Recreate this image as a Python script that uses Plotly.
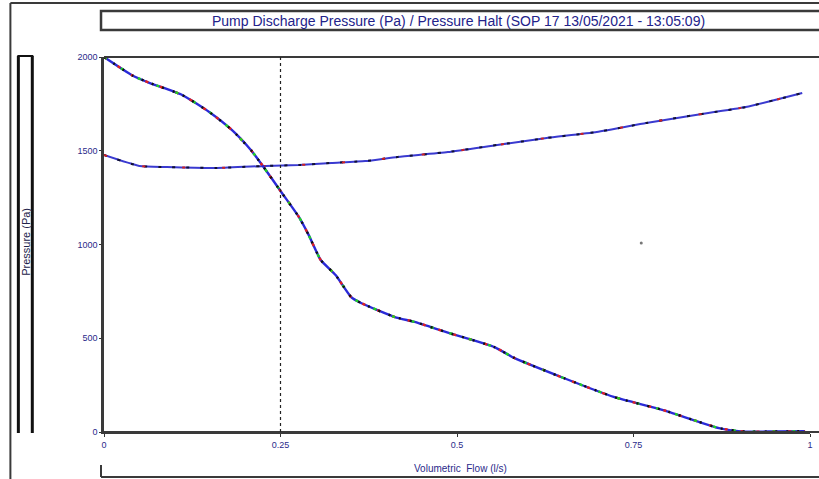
import plotly.graph_objects as go

# Falling curve (head / pressure)
x_fall = [0.0, 0.041, 0.065, 0.111, 0.149, 0.181, 0.208, 0.224, 0.252, 0.276, 0.290,
          0.307, 0.328, 0.350, 0.364, 0.412, 0.440, 0.487, 0.553, 0.581, 0.651,
          0.722, 0.792, 0.871, 0.909, 0.95, 0.993]
y_fall = [2000, 1900, 1861, 1797, 1707, 1611, 1504, 1424, 1275, 1147, 1050,
          917, 837, 720, 688, 613, 587, 530, 453, 395, 288,
          187, 117, 21, 2, 3, 4]

# Rising curve
x_rise = [0.0, 0.05, 0.089, 0.16, 0.229, 0.276, 0.322, 0.37, 0.416, 0.487, 0.557,
          0.627, 0.698, 0.768, 0.838, 0.909, 0.989]
y_rise = [1477, 1419, 1413, 1408, 1419, 1424, 1435, 1445, 1467, 1493, 1531,
          1568, 1600, 1648, 1691, 1733, 1808]

x_ticks = [0, 0.25, 0.5, 0.75, 1]
x_tick_text = ["0", "0.25", "0.5", "0.75", "1"]
y_ticks = [0, 500, 1000, 1500, 2000]
y_tick_text = ["0", "500", "1000", "1500", "2000"]
marker_x = [0.250]
stray_x = [0.761]
stray_y = [1008]

title_text = "Pump Discharge Pressure (Pa) / Pressure Halt (SOP 17 13/05/2021 - 13:05:09)"
y_title = "Pressure (Pa)"
x_title = "Volumetric  Flow (l/s)"

W, H = 819, 479
L, R, T, B = 104, 813, 57, 432


def px(xp):
    return (xp - L) / (R - L)


def py(yp):
    return (B - yp) / (B - T)


fig = go.Figure()

SM = dict(shape="spline", smoothing=0.5)

# rising curve
fig.add_trace(go.Scatter(x=x_rise, y=y_rise, mode="lines",
                         line=dict(color="#3a3ad0", width=2.0, **SM), hoverinfo="skip"))
fig.add_trace(go.Scatter(x=x_rise, y=y_rise, mode="lines",
                         line=dict(color="#111133", width=2.0, dash="3px,11px", **SM), hoverinfo="skip"))
fig.add_trace(go.Scatter(x=x_rise, y=y_rise, mode="lines",
                         line=dict(color="#d02020", width=2.0, dash="3px,37px", **SM), hoverinfo="skip"))

# falling curve, multicoloured
fig.add_trace(go.Scatter(x=x_fall, y=y_fall, mode="lines",
                         line=dict(color="#2a2ad8", width=2.4, **SM), hoverinfo="skip"))
fig.add_trace(go.Scatter(x=x_fall, y=y_fall, mode="lines",
                         line=dict(color="#e02020", width=2.4, dash="3px,13px", **SM), hoverinfo="skip"))
fig.add_trace(go.Scatter(x=x_fall, y=y_fall, mode="lines",
                         line=dict(color="#20d020", width=2.4, dash="3px,17px", **SM), hoverinfo="skip"))
fig.add_trace(go.Scatter(x=x_fall, y=y_fall, mode="lines",
                         line=dict(color="#111111", width=2.4, dash="2px,9px", **SM), hoverinfo="skip"))

# stray dot
fig.add_trace(go.Scatter(x=stray_x, y=stray_y, mode="markers",
                         marker=dict(color="#777777", size=3), hoverinfo="skip"))

shapes = []
line_dark = dict(color="#3a3a3a", width=2)
# outer page frame
shapes.append(dict(type="line", xref="paper", yref="paper", x0=px(10), x1=px(830),
                   y0=py(3), y1=py(3), line=line_dark))
shapes.append(dict(type="line", xref="paper", yref="paper", x0=px(10), x1=px(10),
                   y0=py(3), y1=py(490), line=line_dark))
# title box
shapes.append(dict(type="rect", xref="paper", yref="paper", x0=px(101), x1=px(830),
                   y0=py(11), y1=py(30), line=dict(color="#3a3a3a", width=2.5)))
# y-title box
shapes.append(dict(type="line", xref="paper", yref="paper", x0=px(18), x1=px(18),
                   y0=py(56), y1=py(433), line=dict(color="#111111", width=3)))
shapes.append(dict(type="line", xref="paper", yref="paper", x0=px(32), x1=px(32),
                   y0=py(56), y1=py(433), line=dict(color="#111111", width=3)))
shapes.append(dict(type="line", xref="paper", yref="paper", x0=px(17), x1=px(33),
                   y0=py(56), y1=py(56), line=dict(color="#111111", width=2)))
# x-title bracket
shapes.append(dict(type="line", xref="paper", yref="paper", x0=px(101), x1=px(101),
                   y0=py(465), y1=py(477), line=line_dark))
shapes.append(dict(type="line", xref="paper", yref="paper", x0=px(101), x1=px(830),
                   y0=py(477), y1=py(477), line=line_dark))
# plot top border
shapes.append(dict(type="line", xref="paper", yref="paper", x0=0, x1=px(830),
                   y0=1, y1=1, line=dict(color="#3a3a3a", width=2)))
# bottom axis extended
shapes.append(dict(type="line", xref="paper", yref="paper", x0=0, x1=px(830),
                   y0=0, y1=0, line=dict(color="#3a3a3a", width=2)))
# dotted marker line
for mx in marker_x:
    shapes.append(dict(type="line", xref="x", yref="paper", x0=mx, x1=mx, y0=0, y1=1,
                       line=dict(color="#222222", width=1.2, dash="dot")))

FAM = "Liberation Sans, Arial, sans-serif"
font_txt = dict(family=FAM, size=10, color="#2a2a8a")

annotations = [
    dict(text=title_text, xref="paper", yref="paper", x=px(460), y=py(20.5),
         xanchor="center", yanchor="middle",
         showarrow=False, font=dict(family=FAM, size=14, color="#22228a")),
    dict(text=y_title, xref="paper", yref="paper", x=px(25.5), y=py(242), textangle=-90,
         xanchor="center", yanchor="middle",
         showarrow=False, font=dict(family=FAM, size=11, color="#22224a")),
    dict(text=x_title, xref="paper", yref="paper", x=px(462), y=py(468),
         xanchor="center", yanchor="middle",
         showarrow=False, font=font_txt),
]

fig.update_layout(
    width=W, height=H, autosize=False,
    margin=dict(l=L, r=W - R, t=T, b=H - B, pad=0),
    paper_bgcolor="white", plot_bgcolor="white",
    showlegend=False,
    shapes=shapes, annotations=annotations,
    xaxis=dict(range=[0, 1], tickvals=x_ticks, ticktext=x_tick_text,
               showgrid=False, zeroline=False, showline=True, linecolor="#3a3a3a", linewidth=2,
               ticks="outside", ticklen=3, tickcolor="#333333",
               tickfont=dict(family=FAM, size=9, color="#2a2a8a")),
    yaxis=dict(range=[0, 2000], tickvals=y_ticks, ticktext=y_tick_text,
               showgrid=False, zeroline=False, showline=True, linecolor="#3a3a3a", linewidth=2.5,
               ticks="outside", ticklen=2, tickcolor="#333333",
               tickfont=dict(family=FAM, size=9, color="#2a2a8a")),
)

fig.write_html("out.html", config={"displayModeBar": False},
               post_script="document.body.style.margin='0px';")
